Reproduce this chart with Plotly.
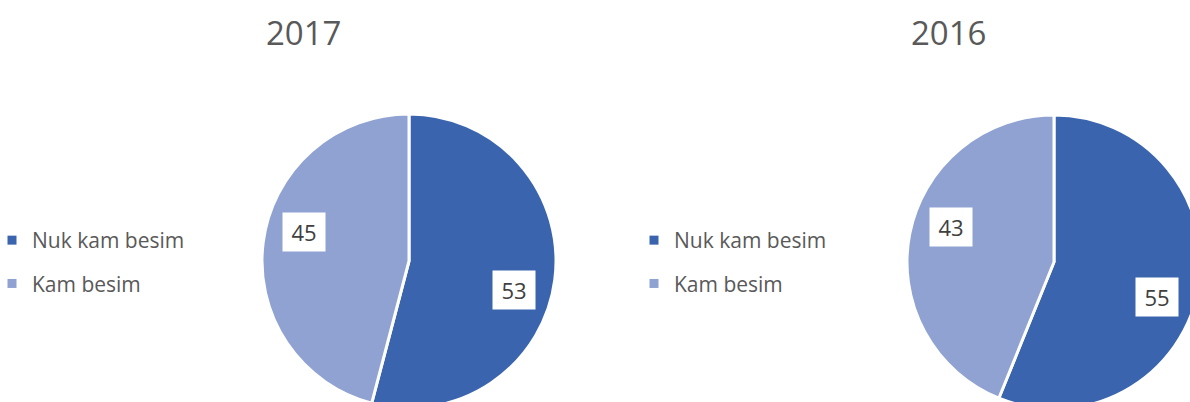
import math
import plotly.graph_objects as go

# ---- data ----
years = ["2017", "2016"]
categories = ["Nuk kam besim", "Kam besim"]
values_2017 = [53, 45]
values_2016 = [55, 43]
colors = ["#3A65AE", "#8FA2D2"]

W, H = 1210, 420
R = 147
centers = [(409, 261), (1054, 262)]
title_x = [303, 948]
legend_left = [-8, 634]

fig = go.Figure()
annotations = []
all_values = [values_2017, values_2016]

for i, (yr, vals) in enumerate(zip(years, all_values)):
    cx, cy = centers[i]
    fig.add_trace(go.Pie(
        labels=categories, values=vals, sort=False, direction="clockwise",
        rotation=0, marker=dict(colors=colors, line=dict(color="white", width=3)),
        textinfo="none", showlegend=False, hoverinfo="label+value",
        domain=dict(x=[(cx - R) / W, (cx + R) / W], y=[(H - (cy + R)) / H, (H - (cy - R)) / H]),
    ))
    # title
    annotations.append(dict(text=yr, x=title_x[i] / W, y=1 - 33 / H, xref="paper", yref="paper",
                            showarrow=False, font=dict(size=33, color="#595959", family="Open Sans"),
                            xanchor="center", yanchor="middle"))
    # data labels in white boxes, placed from the data's slice angles
    total = sum(vals)
    cum = 0
    for v in vals:
        mid = (cum + v / 2) / total * 360 + 8
        cum += v
        px = cx + 0.74 * R * math.sin(math.radians(mid))
        py = cy - 0.74 * R * math.cos(math.radians(mid))
        annotations.append(dict(text=str(v), x=px / W, y=1 - py / H, xref="paper", yref="paper",
                                showarrow=False, bgcolor="white", width=40, height=36,
                                font=dict(size=22, color="#404040", family="Open Sans"),
                                xanchor="center", yanchor="middle"))
    # legend entries
    lg = "legend" if i == 0 else "legend2"
    for c, col in zip(categories, colors):
        fig.add_trace(go.Scatter(x=[None], y=[None], mode="markers", name=c,
                                 marker=dict(symbol="square", size=9, color=col),
                                 legend=lg, legendgroup=f"{lg}-{c}", hoverinfo="skip"))

legend_common = dict(font=dict(size=21, color="#595959", family="Open Sans"),
                     tracegroupgap=13, bgcolor="rgba(0,0,0,0)", xanchor="left", yanchor="top",
                     y=1 - 220 / H)

fig.update_layout(
    width=W, height=H, autosize=False,
    margin=dict(l=0, r=0, t=0, b=0, autoexpand=False),
    paper_bgcolor="white", plot_bgcolor="white",
    xaxis=dict(visible=False), yaxis=dict(visible=False),
    annotations=annotations,
    legend=dict(x=legend_left[0] / W, **legend_common),
    legend2=dict(x=legend_left[1] / W, **legend_common),
    showlegend=True,
)

post = ("document.body.style.margin='0';document.body.style.overflow='hidden';"
        "document.documentElement.style.overflow='hidden';")
fig.write_html("out.html", post_script=post, config={"displayModeBar": False})
